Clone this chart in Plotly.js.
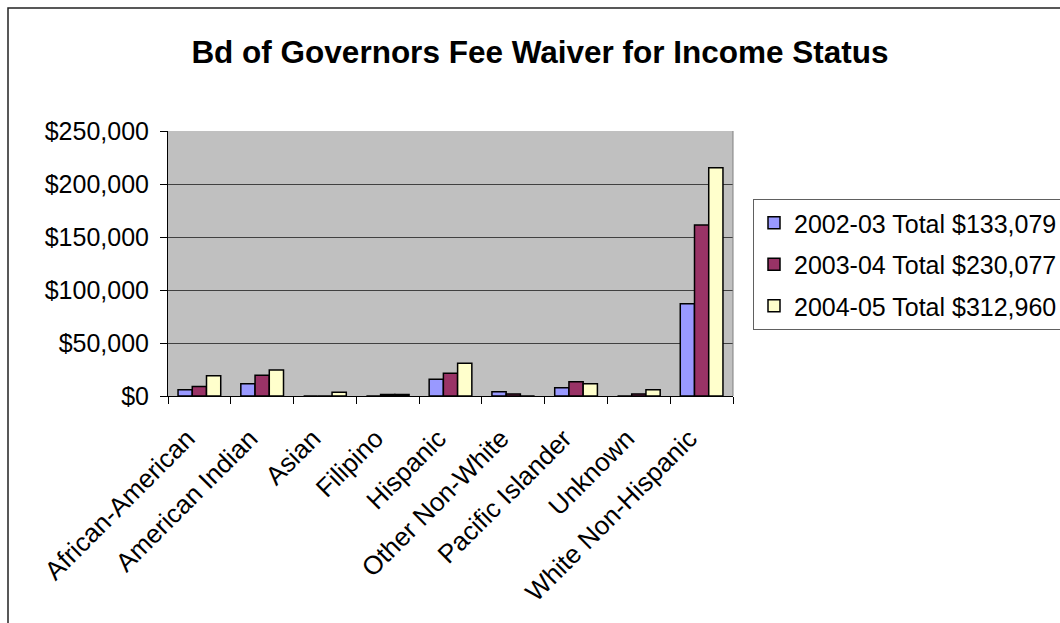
<!DOCTYPE html>
<html>
<head>
<meta charset="utf-8">
<script src="https://cdn.plot.ly/plotly-3.0.1.min.js"></script>
<style>
  html, body { margin: 0; padding: 0; background: #ffffff; }
  #chart { width: 1060px; height: 623px; }
</style>
</head>
<body>
<div id="chart"></div>
<script>
// ---- data ----
const categories = ["African-American", "American Indian", "Asian", "Filipino", "Hispanic",
                    "Other Non-White", "Pacific Islander", "Unknown", "White Non-Hispanic"];
const seriesNames = ["2002-03 Total $133,079", "2003-04 Total $230,077", "2004-05 Total $312,960"];
const values2002 = [6000, 11500, 0, 0, 15700, 4000, 7800, 0, 87000];
const values2003 = [9000, 19500, 0, 1500, 21400, 2000, 13500, 2000, 161300];
const values2004 = [19000, 24500, 3500, 1500, 30800, 0, 11600, 6000, 215400];
const yTickValues = [0, 50000, 100000, 150000, 200000, 250000];
const yTickLabels = ["$0", "$50,000", "$100,000", "$150,000", "$200,000", "$250,000"];
const chartTitle = "Bd of Governors Fee Waiver for Income Status";

// ---- styling ----
const colors = ["#9999FF", "#993366", "#FFFFCC"];
const seriesValues = [values2002, values2003, values2004];
const W = 1060, H = 623;
const M = { l: 168, r: W - 733, t: 131, b: H - 396 };
const pw = W - M.l - M.r, ph = H - M.t - M.b;
const px2x = p => (p - M.l) / pw;
const py2y = p => (H - M.b - p) / ph;
const FONT = "Liberation Sans, Arial, sans-serif";

const traces = seriesValues.map((vals, i) => ({
  type: "bar",
  name: seriesNames[i],
  x: categories,
  y: vals,
  legendgroup: "g" + i,
  marker: { color: colors[i], line: { color: "#000000", width: 1.5 } },
  hoverinfo: "skip"
}));

const layout = {
  width: W, height: H,
  margin: { l: M.l, r: M.r, t: M.t, b: M.b, autoexpand: false },
  paper_bgcolor: "#ffffff",
  plot_bgcolor: "#C0C0C0",
  barmode: "group",
  bargap: 0.32,
  bargroupgap: 0,
  showlegend: true,
  title: {
    text: chartTitle,
    font: { family: FONT, size: 31.5, color: "#000000", weight: "bold" },
    x: 540 / W, xanchor: "center",
    y: 1 - 52 / H, yanchor: "middle"
  },
  xaxis: {
    type: "category",
    tickangle: -45,
    tickson: "boundaries",
    ticks: "outside",
    ticklen: 7,
    tickcolor: "#000000",
    ticklabelstandoff: 16,
    ticklabelshift: -12,
    showline: true,
    linecolor: "#000000",
    linewidth: 1,
    showgrid: false,
    tickfont: { family: FONT, size: 26, color: "#000000" }
  },
  yaxis: {
    range: [0, 250000],
    tickmode: "array",
    tickvals: yTickValues,
    ticktext: yTickLabels,
    ticks: "outside",
    ticklen: 7,
    tickcolor: "#000000",
    ticklabelstandoff: 6,
    showline: true,
    linecolor: "#000000",
    linewidth: 1,
    showgrid: true,
    gridcolor: "#404040",
    gridwidth: 1,
    zeroline: false,
    tickfont: { family: FONT, size: 25, color: "#000000" }
  },
  legend: {
    x: px2x(753), xanchor: "left",
    y: py2y(199), yanchor: "top",
    bgcolor: "#ffffff",
    bordercolor: "#606060",
    borderwidth: 1,
    traceorder: "grouped",
    tracegroupgap: 6,
    font: { family: FONT, size: 25, color: "#000000" }
  },
  shapes: [
    // plot area right border
    { type: "line", xref: "paper", yref: "paper", x0: 1, x1: 1, y0: 0, y1: 1,
      line: { color: "#808080", width: 1 } },
    // chart area outer border (left and top)
    { type: "path", xref: "paper", yref: "paper",
      path: `M ${px2x(1070)} ${py2y(8)} L ${px2x(8)} ${py2y(8)} L ${px2x(8)} ${py2y(633)}`,
      line: { color: "#222222", width: 1.5 } }
  ]
};

Plotly.newPlot("chart", traces, layout, { displayModeBar: false, staticPlot: true });
</script>
</body>
</html>
